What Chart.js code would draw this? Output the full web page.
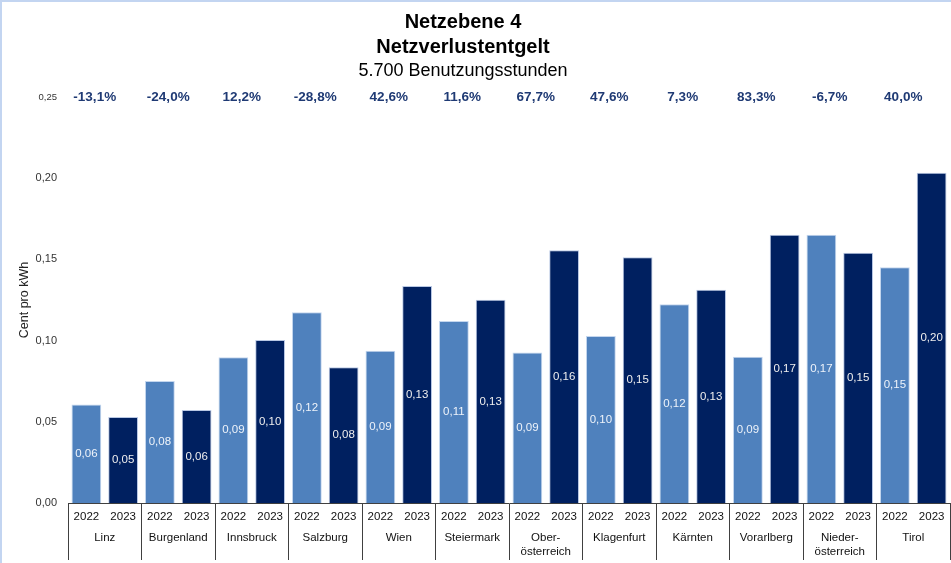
<!DOCTYPE html>
<html><head><meta charset="utf-8">
<script src="https://cdn.jsdelivr.net/npm/chart.js@4.4.1/dist/chart.umd.min.js"></script>
<style>
html,body{margin:0;padding:0;width:951px;height:563px;overflow:hidden;background:#fff;}
#wrap{position:absolute;left:-24px;top:0;width:975px;height:563px;}
#frame{position:absolute;left:0;top:0;width:951px;height:563px;box-sizing:border-box;border-top:2px solid #c3d5f1;border-left:2px solid #c3d5f1;pointer-events:none;}
</style></head><body>
<div id="wrap"><canvas id="c" width="975" height="563"></canvas></div>
<div id="frame"></div>
<script>
const categories = ['Linz', 'Burgenland', 'Innsbruck', 'Salzburg', 'Wien', 'Steiermark', ['Ober-', 'österreich'], 'Klagenfurt', 'Kärnten', 'Vorarlberg', ['Nieder-', 'österreich'], 'Tirol'];
const years = ['2022', '2023'];
const values2022 = [0.0607, 0.0752, 0.0898, 0.1174, 0.0937, 0.1121, 0.0926, 0.1029, 0.1224, 0.0901, 0.1652, 0.1452];
const values2023 = [0.0529, 0.0572, 0.1004, 0.0836, 0.1336, 0.1251, 0.1556, 0.1513, 0.1313, 0.1652, 0.1541, 0.2033];
const changes = [-13.1, -24.0, 12.2, -28.8, 42.6, 11.6, 67.7, 47.6, 7.3, 83.3, -6.7, 40.0];
const yTicks = [0, 0.05, 0.10, 0.15, 0.20, 0.25];
const titleLines = ['Netzebene 4', 'Netzverlustentgelt'];
const subtitleText = '5.700 Benutzungsstunden';
const yTitle = 'Cent pro kWh';

const FONT = "'Liberation Sans', Arial, sans-serif";
const fmt2 = v => v.toFixed(2).replace('.', ',');
const fmtPct = v => v.toFixed(1).replace('.', ',') + '%';
const yearTickLabels = categories.flatMap(() => years);

const valueLabels = {
  id: 'valueLabels',
  afterDatasetsDraw(chart) {
    const ctx = chart.ctx;
    ctx.save();
    ctx.font = '11.5px ' + FONT;
    ctx.textAlign = 'center';
    ctx.textBaseline = 'middle';
    chart.data.datasets.forEach((ds, di) => {
      const meta = chart.getDatasetMeta(di);
      ctx.fillStyle = di === 0 ? '#eef3fa' : '#eeeeee';
      meta.data.forEach((bar, i) => {
        ctx.fillText(fmt2(ds.data[i]), bar.x, (bar.y + bar.base) / 2);
      });
    });
    ctx.restore();
  }
};

const changeLabels = {
  id: 'changeLabels',
  afterDraw(chart) {
    const ctx = chart.ctx;
    const xs = chart.scales.x, ys = chart.scales.y;
    const y = ys.getPixelForValue(yTicks[yTicks.length - 1]);
    ctx.save();
    ctx.font = 'bold 13.5px ' + FONT;
    ctx.textAlign = 'center';
    ctx.textBaseline = 'middle';
    ctx.fillStyle = '#1f3a74';
    changes.forEach((c, i) => {
      ctx.fillText(fmtPct(c), xs.getPixelForValue(i) - 10, y);
    });
    ctx.restore();
  }
};

new Chart(document.getElementById('c'), {
  type: 'bar',
  data: {
    labels: categories,
    datasets: [
      { label: years[0], data: values2022, xAxisID: 'x', yAxisID: 'y', backgroundColor: '#4f81bd', borderColor: '#c4d6ee', borderWidth: 1, barPercentage: 0.81, categoryPercentage: 1.0 },
      { label: years[1], data: values2023, xAxisID: 'x', yAxisID: 'y', backgroundColor: '#002060', borderColor: '#b9c8e4', borderWidth: 1, barPercentage: 0.81, categoryPercentage: 1.0 }
    ]
  },
  options: {
    responsive: false,
    animation: false,
    devicePixelRatio: 1,
    layout: { padding: { left: 0, right: 1, top: 0, bottom: 4 } },
    plugins: {
      legend: { display: false },
      tooltip: { enabled: false },
      title: {
        display: true, text: titleLines, color: '#000',
        font: { family: FONT, size: 20, weight: 'bold', lineHeight: 1.25 },
        padding: { top: 9.5, bottom: 0 }
      },
      subtitle: {
        display: true, text: subtitleText, color: '#000',
        font: { family: FONT, size: 18, weight: 'normal', lineHeight: 1.2 },
        padding: { top: 0.7, bottom: 15.2 }
      }
    },
    scales: {
      y: {
        min: 0, max: 0.25,
        afterFit: s => { s.width = 92; },
        afterBuildTicks: s => { s.ticks = yTicks.map(v => ({ value: v })); },
        grid: { display: false, drawTicks: false },
        border: { display: false },
        ticks: {
          padding: 11,
          color: '#333',
          callback: v => fmt2(v),
          font: ctx => ({ family: FONT, size: (ctx.tick && ctx.tick.value > 0.24) ? 9.5 : 11 })
        },
        title: {
          display: true, text: yTitle, color: '#222',
          font: { family: FONT, size: 12.5 },
          padding: { top: 41, bottom: 0 }
        }
      },
      xYear: {
        type: 'category',
        labels: yearTickLabels,
        position: 'bottom',
        weight: 0,
        offset: true,
        afterFit: s => { s.height = 20; },
        grid: {
          display: true, drawOnChartArea: false, drawTicks: true, tickLength: 57, offset: true,
          lineWidth: 1,
          color: ctx => (ctx.index === undefined || ctx.index % 2 === 0) ? '#404040' : 'rgba(0,0,0,0)'
        },
        border: { display: true, color: '#404040', width: 1 },
        ticks: { autoSkip: false, maxRotation: 0, minRotation: 0, padding: -50.2, color: '#111', font: { family: FONT, size: 11.5 } }
      },
      x: {
        type: 'category',
        position: 'bottom',
        weight: 1,
        offset: true,
        afterFit: s => { s.height = 36; },
        grid: { display: false, drawTicks: false },
        border: { display: false },
        ticks: { autoSkip: false, maxRotation: 0, minRotation: 0, padding: 8.4, color: '#111', font: { family: FONT, size: 11.5 } }
      }
    }
  },
  plugins: [valueLabels, changeLabels]
});
</script>
</body></html>
